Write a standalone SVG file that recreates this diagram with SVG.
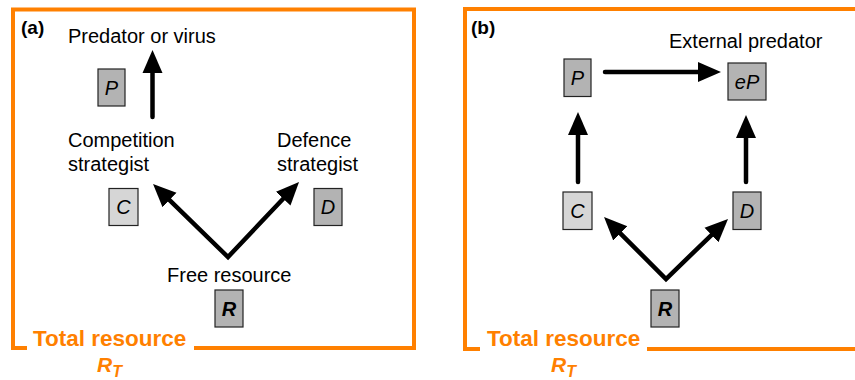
<svg xmlns="http://www.w3.org/2000/svg" width="855" height="380" viewBox="0 0 855 380">
<defs>
<style>
.frame{fill:none;stroke:#ff8000;stroke-width:4;stroke-linejoin:miter}
.lbl{font-family:"Liberation Sans",Arial,sans-serif;font-size:20px;fill:#000}
.panel{font-family:"Liberation Sans",Arial,sans-serif;font-size:19px;font-weight:bold;fill:#000}
.tot{font-family:"Liberation Sans",Arial,sans-serif;font-size:22.5px;font-weight:bold;fill:#ff8000}
.rt{font-family:"Liberation Sans",Arial,sans-serif;font-weight:bold;font-style:italic;fill:#ff8000}
.box{stroke:#222;stroke-width:1.2}
.dark{fill:#b3b3b3}
.light{fill:#d6d6d6}
.sym{font-family:"Liberation Sans",Arial,sans-serif;font-size:20px;font-style:italic;fill:#000;text-anchor:middle}
.arr{fill:none;stroke:#000;stroke-width:4.5;stroke-linecap:round;stroke-linejoin:miter}
</style>
<marker id="ah" markerUnits="userSpaceOnUse" markerWidth="24" markerHeight="22" refX="1" refY="10" orient="auto-start-reverse" viewBox="0 0 24 20">
<path d="M0,0 L23,10 L0,20 z" fill="#000"/>
</marker>
</defs>
<rect width="855" height="380" fill="#fff"/>

<!-- Panel (a) -->
<path class="frame" d="M27,348 L13,348 L13,9.5 L414,9.5 L414,348 L194,348"/>
<text class="panel" x="21" y="34">(a)</text>
<text class="tot" x="33" y="346">Total resource</text>
<text class="rt" x="97" y="372" font-size="21">R<tspan font-size="16" dy="5">T</tspan></text>

<g id="a-labels">
<text class="lbl" x="68" y="43">Predator or virus</text>
<text class="lbl" x="68" y="147">Competition</text>
<text class="lbl" x="68" y="171">strategist</text>
<text class="lbl" x="277" y="147">Defence</text>
<text class="lbl" x="277" y="171">strategist</text>
<text class="lbl" x="167" y="282">Free resource</text>
</g>

<g id="a-P"><rect class="box dark" x="98" y="69" width="27" height="37"/><text class="sym" x="111.5" y="95">P</text></g>
<g id="a-C"><rect class="box light" x="109" y="188.5" width="29" height="37"/><text class="sym" x="123.5" y="214">C</text></g>
<g id="a-D"><rect class="box dark" x="314" y="188.5" width="28" height="37"/><text class="sym" x="328" y="214">D</text></g>
<g id="a-R"><rect class="box dark" x="215" y="290" width="28" height="37"/><text class="sym" x="229" y="316" font-weight="bold">R</text></g>

<g id="a-connectors">
<path class="arr" d="M152.5,117 L152.5,72" marker-end="url(#ah)"/>
<path class="arr" d="M168.8,199.3 L228,257 L283.9,198" marker-start="url(#ah)" marker-end="url(#ah)"/>
</g>

<!-- Panel (b) -->
<path class="frame" d="M480,349 L465,349 L465,9 L860,9"/>
<path class="frame" d="M647,349 L860,349"/>
<text class="panel" x="471" y="34">(b)</text>
<text class="tot" x="487" y="346">Total resource</text>
<text class="rt" x="551" y="372" font-size="21">R<tspan font-size="16" dy="5">T</tspan></text>

<g id="b-labels">
<text class="lbl" x="669" y="48">External predator</text>
</g>

<g id="b-P"><rect class="box dark" x="564" y="59" width="27" height="37.5"/><text class="sym" x="577.5" y="85">P</text></g>
<g id="b-eP"><rect class="box dark" x="728" y="63" width="38" height="37"/><text class="sym" x="747" y="89">eP</text></g>
<g id="b-C"><rect class="box light" x="563" y="192" width="29" height="37.5"/><text class="sym" x="577.5" y="218">C</text></g>
<g id="b-D"><rect class="box dark" x="733" y="192" width="28" height="37.5"/><text class="sym" x="747" y="218">D</text></g>
<g id="b-R"><rect class="box dark" x="651" y="290" width="28" height="37"/><text class="sym" x="665" y="316" font-weight="bold">R</text></g>

<g id="b-connectors">
<path class="arr" d="M605,72 L699,72" marker-end="url(#ah)"/>
<path class="arr" d="M578,182 L578,134" marker-end="url(#ah)"/>
<path class="arr" d="M746,182 L746,137" marker-end="url(#ah)"/>
<path class="arr" d="M619.6,232.6 L666,279 L712.2,234.3" marker-start="url(#ah)" marker-end="url(#ah)"/>
</g>
</svg>
